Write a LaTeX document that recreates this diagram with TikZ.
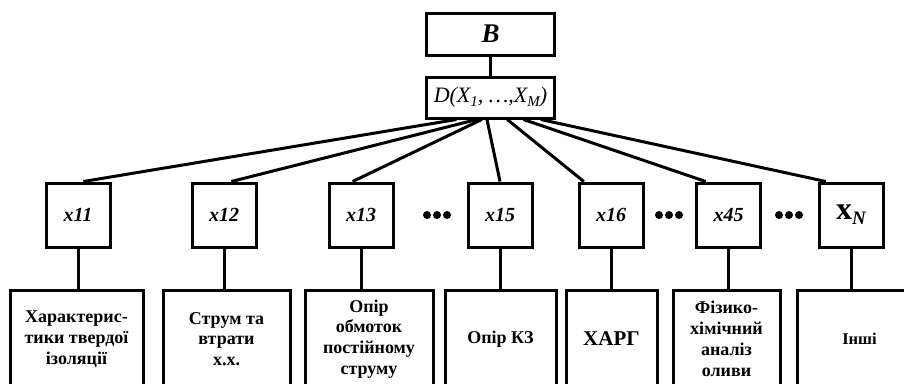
\documentclass[tikz,border=0pt]{standalone}
\usepackage{fontspec}
\setmainfont{Liberation Serif}
\usetikzlibrary{calc}
\newcommand{\sbi}[1]{{\fontsize{15}{15}\selectfont\raisebox{-4pt}{\itshape #1}}}
\begin{document}
\begin{tikzpicture}[x=1pt,y=-1pt,
  box/.style={draw, line width=3pt, rectangle, inner sep=0pt, align=center},
  xbox/.style={box, minimum width=64pt, minimum height=64pt,
    font=\fontsize{20}{22}\selectfont\bfseries\itshape},
  leaf/.style={box, minimum height=98pt,
    font=\fontsize{18}{20.8}\selectfont\bfseries},
  conn/.style={line width=3pt},
  dotc/.style={fill=black}
]
\useasboundingbox (0,0) rectangle (904,383);
\clip (0,0) rectangle (904,383);

% top boxes
\node[box, minimum width=128pt, minimum height=42pt,
  font=\fontsize{27}{30}\selectfont\bfseries\itshape] (B) at (490.5,34) {B};
\node[box, minimum width=128pt, minimum height=41pt,
  font=\fontsize{22}{24}\selectfont\itshape] (D) at (490.5,97.5)
  {D(X\sbi{1}, …,X\sbi{M})};
\draw[conn] (B.south) -- (D.north);

% middle boxes
\node[xbox] (x11) at (78,215) {x11};
\node[xbox] (x12) at (224,215) {x12};
\node[xbox] (x13) at (361,215) {x13};
\node[xbox] (x15) at (500,215) {x15};
\node[xbox] (x16) at (611,215) {x16};
\node[xbox] (x45) at (728.5,215) {x45};
\node[xbox] (xN) at (851,215) {{\fontsize{32}{32}\selectfont\upshape x}{\fontsize{19}{19}\selectfont\raisebox{-5pt}{N}}};

% dots
\foreach \cx in {437,669,789}{
  \fill[dotc] (\cx-10,215) circle (4);
  \fill[dotc] (\cx,215) circle (4);
  \fill[dotc] (\cx+10,215) circle (4);
}

% connectors from D
\draw[conn] ($(D.south west)!0.24!(D.south east)$) -- ($(x11.north west)!0.58!(x11.north east)$);
\draw[conn] ($(D.south west)!0.395!(D.south east)$) -- ($(x12.north west)!0.61!(x12.north east)$);
\draw[conn] ($(D.south west)!0.434!(D.south east)$) -- ($(x13.north west)!0.375!(x13.north east)$);
\draw[conn] ($(D.south west)!0.473!(D.south east)$) -- ($(x15.north west)!0.5!(x15.north east)$);
\draw[conn] ($(D.south west)!0.628!(D.south east)$) -- ($(x16.north west)!0.094!(x16.north east)$);
\draw[conn] ($(D.south west)!0.752!(D.south east)$) -- ($(x45.north west)!0.16!(x45.north east)$);
\draw[conn] ($(D.south west)!0.884!(D.south east)$) -- ($(xN.north west)!0.125!(xN.north east)$);

% leaf boxes
\node[leaf, minimum width=133pt] (b1) at (76.5,339) {Характерис-\\тики твердої\\ізоляції};
\node[leaf, minimum width=127pt] (b2) at (226.5,339) {Струм та\\втрати\\х.х.};
\node[leaf, minimum width=128pt] (b3) at (369,339) {Опір\\обмоток\\постійному\\струму};
\node[leaf, minimum width=111pt] (b4) at (500.5,339) {Опір КЗ};
\node[leaf, minimum width=91pt, font=\fontsize{21}{24}\selectfont\bfseries] (b5) at (611.5,339) {ХАРГ};
\node[leaf, minimum width=107pt] (b6) at (726.5,339) {Фізико-\\хімічний\\аналіз\\оливи};
\node[leaf, minimum width=125pt, font=\fontsize{16.5}{18}\selectfont\bfseries] (b7) at (859.5,339) {Інші};

% vertical connectors
\foreach \a/\b in {x11/b1,x12/b2,x13/b3,x15/b4,x16/b5,x45/b6,xN/b7}{
  \draw[conn] (\a.south) -- (\a.south |- \b.north);
}
\end{tikzpicture}
\end{document}
